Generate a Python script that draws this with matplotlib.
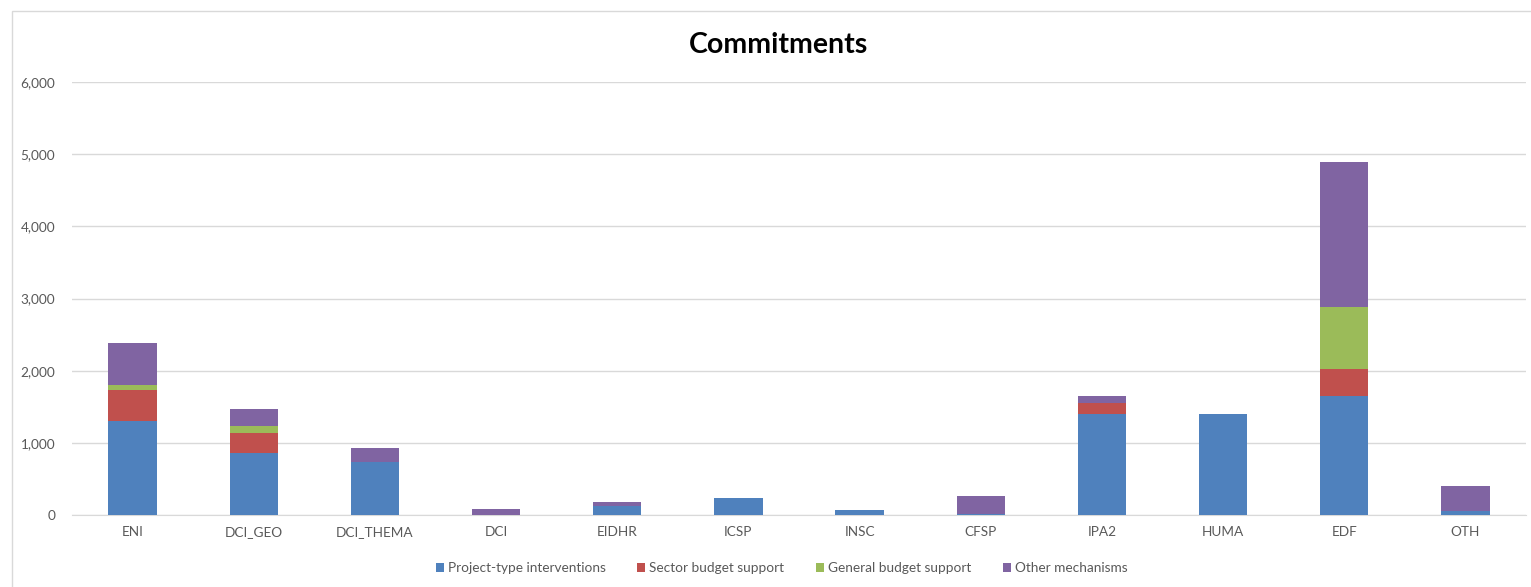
import matplotlib
matplotlib.use('Agg')
from matplotlib import pyplot as plt
from matplotlib.patches import Rectangle
from matplotlib.ticker import FuncFormatter

plt.rcParams['font.family'] = ['Lato', 'DejaVu Sans']

categories = ['ENI', 'DCI_GEO', 'DCI_THEMA', 'DCI', 'EIDHR', 'ICSP', 'INSC',
              'CFSP', 'IPA2', 'HUMA', 'EDF', 'OTH']
project_type = [1300, 860, 730, 5, 130, 240, 70, 10, 1400, 1400, 1650, 50]
sector_budget = [435, 270, 0, 0, 0, 0, 0, 0, 150, 0, 375, 0]
general_budget = [65, 100, 0, 0, 0, 0, 0, 0, 0, 0, 860, 0]
other_mech = [590, 240, 205, 75, 45, 0, 5, 250, 95, 5, 2000, 345]

series = [
    ('Project-type interventions', project_type, '#4f81bd'),
    ('Sector budget support', sector_budget, '#c0504d'),
    ('General budget support', general_budget, '#9bbb59'),
    ('Other mechanisms', other_mech, '#8064a2'),
]

fig = plt.figure(figsize=(15.31, 5.87), dpi=100)
ax = fig.add_axes([72 / 1531, 1 - 515 / 587, (1526 - 72) / 1531, (515 - 82) / 587])

x = range(len(categories))
bottom = [0] * len(categories)
for name, vals, col in series:
    ax.bar(x, vals, width=0.4, bottom=bottom, color=col, label=name,
           edgecolor='none', zorder=3)
    bottom = [b + v for b, v in zip(bottom, vals)]

ax.set_xlim(-0.5, len(categories) - 0.5)
ax.set_ylim(0, 6000)
ax.set_yticks(range(0, 6001, 1000))
ax.yaxis.set_major_formatter(FuncFormatter(lambda v, p: f'{int(v):,}'))
ax.set_xticks(list(x))
ax.set_xticklabels(categories)
ax.grid(axis='y', color='#d9d9d9', linewidth=1, zorder=0)
for s in ['top', 'right', 'left']:
    ax.spines[s].set_visible(False)
ax.spines['bottom'].set_color('#d9d9d9')
ax.tick_params(axis='both', length=0, colors='#595959', labelsize=9.8)
ax.tick_params(axis='y', pad=12)
ax.tick_params(axis='x', pad=8)

fig.text(778 / 1531, 1 - 45 / 587, 'Commitments', ha='center', va='center',
         fontsize=20.5, fontweight='bold', color='black')

leg = ax.legend(loc='center', bbox_to_anchor=(0.488, -0.123), ncol=4, frameon=False,
                fontsize=9.8, handlelength=0.6, handleheight=0.6, handletextpad=0.3,
                columnspacing=2.3)
for t in leg.get_texts():
    t.set_color('#595959')

# outer chart border
fig.patches.append(Rectangle((12 / 1531, -0.1), 1.2, 1 - 11 / 587 + 0.1,
                             transform=fig.transFigure, fill=False,
                             edgecolor='#d9d9d9', linewidth=1))

fig.savefig('out.png', dpi=100)
